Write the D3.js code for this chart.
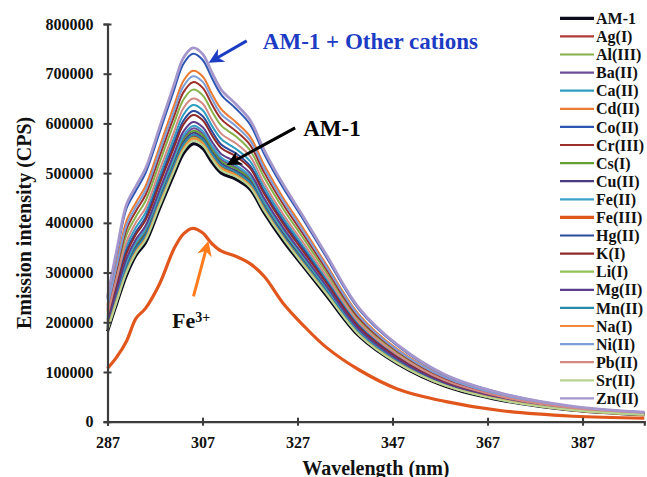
<!DOCTYPE html>
<html>
<head>
<meta charset="utf-8">
<script src="https://cdn.jsdelivr.net/npm/d3@7"></script>
<style>
  body { margin: 0; background: #fff; }
  svg { display: block; font-family: "Liberation Serif", "Times New Roman", serif; font-weight: bold; }
</style>
</head>
<body>
<svg id="chart" width="647" height="477"></svg>
<script>
// wavelength (nm) and emission intensities (thousands of CPS)
var wavelength = [287, 289, 291, 293, 295, 298, 301, 303, 305, 307, 309, 311, 314, 317, 320, 324, 328, 333, 340, 348, 358, 370, 385, 400];

var am1 = [182, 240, 295, 335, 360, 430, 498, 540, 559, 550, 522, 500, 488, 468, 420, 364, 315, 255, 172, 117, 72, 43, 23, 14];
var ag  = [187, 248, 306, 346, 372, 443, 512, 555, 574, 565, 536, 513, 500, 479, 430, 373, 323, 261, 176, 120, 74, 44, 24, 14];
var al  = [221, 301, 376, 413, 444, 522, 600, 648, 668, 657, 624, 595, 574, 546, 491, 428, 372, 301, 204, 139, 85, 51, 27, 17];
var ba  = [193, 257, 318, 357, 384, 456, 527, 571, 590, 580, 551, 527, 512, 490, 440, 382, 331, 268, 181, 123, 76, 45, 24, 15];
var ca  = [210, 284, 353, 391, 420, 496, 571, 618, 637, 627, 595, 568, 549, 524, 471, 410, 356, 288, 195, 133, 82, 49, 26, 16];
var cd  = [235, 322, 404, 441, 474, 554, 636, 686, 706, 695, 659, 628, 603, 574, 516, 450, 392, 317, 215, 146, 90, 54, 29, 18];
var co  = [247, 341, 429, 465, 500, 583, 667, 720, 740, 728, 691, 657, 630, 598, 538, 470, 410, 332, 225, 153, 94, 57, 30, 19];
var cr  = [226, 309, 387, 424, 456, 535, 614, 663, 683, 672, 638, 608, 585, 557, 501, 437, 380, 308, 208, 142, 87, 52, 28, 17];
var cs  = [191, 255, 314, 354, 380, 452, 523, 566, 585, 576, 547, 523, 509, 487, 437, 379, 329, 266, 180, 122, 75, 45, 24, 15];
var cu  = [190, 252, 311, 351, 377, 448, 518, 562, 581, 571, 542, 519, 505, 484, 434, 377, 326, 264, 178, 121, 75, 45, 24, 15];
var fe2 = [195, 260, 321, 361, 388, 460, 531, 576, 595, 585, 555, 531, 516, 494, 443, 385, 334, 270, 182, 124, 76, 46, 24, 15];
var fe3 = [107, 131, 162, 208, 228, 278, 348, 378, 389, 380, 358, 343, 333, 318, 292, 238, 196, 150, 104, 66, 41, 22, 11, 7];
var hg  = [206, 277, 344, 382, 411, 486, 560, 606, 625, 615, 584, 557, 540, 515, 463, 403, 350, 283, 191, 130, 80, 48, 26, 16];
var k   = [203, 272, 338, 377, 405, 479, 552, 598, 617, 607, 576, 550, 534, 510, 458, 398, 345, 280, 189, 129, 79, 47, 25, 16];
var li  = [186, 247, 304, 343, 369, 440, 509, 552, 571, 562, 533, 510, 497, 476, 428, 371, 321, 260, 175, 119, 73, 44, 23, 14];
var mg  = [198, 265, 328, 367, 394, 467, 539, 584, 603, 593, 563, 538, 523, 500, 449, 390, 338, 274, 185, 126, 77, 46, 25, 15];
var mn  = [188, 250, 308, 348, 374, 445, 515, 558, 577, 568, 539, 516, 502, 481, 432, 374, 324, 263, 177, 121, 74, 44, 24, 14];
var na  = [186, 246, 302, 342, 368, 439, 507, 550, 569, 560, 531, 509, 496, 475, 427, 370, 320, 259, 175, 119, 73, 44, 23, 14];
var ni  = [231, 316, 395, 433, 465, 545, 625, 675, 695, 684, 649, 618, 595, 566, 509, 444, 386, 313, 212, 144, 89, 53, 29, 18];
var pb  = [215, 291, 362, 401, 430, 507, 583, 631, 650, 640, 607, 579, 560, 534, 479, 417, 363, 294, 199, 135, 83, 50, 27, 16];
var sr  = [184, 243, 300, 339, 365, 435, 504, 546, 565, 556, 528, 505, 493, 472, 424, 368, 318, 258, 174, 118, 73, 43, 23, 14];
var zn  = [251, 348, 437, 474, 509, 593, 678, 732, 752, 740, 702, 667, 639, 607, 546, 477, 416, 337, 228, 155, 95, 57, 31, 19];

var seriesNames = ["AM-1", "Ag(I)", "Al(III)", "Ba(II)", "Ca(II)", "Cd(II)", "Co(II)", "Cr(III)", "Cs(I)", "Cu(II)", "Fe(II)",
                   "Fe(III)", "Hg(II)", "K(I)", "Li(I)", "Mg(II)", "Mn(II)", "Na(I)", "Ni(II)", "Pb(II)", "Sr(II)", "Zn(II)"];
var seriesValues = [am1, ag, al, ba, ca, cd, co, cr, cs, cu, fe2, fe3, hg, k, li, mg, mn, na, ni, pb, sr, zn];
var seriesColors = ["#0b0b1e", "#b03a36", "#86b14a", "#6c4f9c", "#2f9dc0", "#ec7a30", "#2d57b2", "#9c2e2c", "#63a030", "#4a3a7e", "#3ba3cb",
                    "#e0561c", "#2c4a9c", "#8e2a2a", "#94c058", "#5c3e8c", "#2a8aac", "#f28a3a", "#7e9ed8", "#d48884", "#b6d492", "#a596cc"];
var seriesWidths = [3.2, 2, 2, 2, 2, 2, 2, 2, 2, 2, 2, 3.2, 2, 2, 2, 2, 2, 2, 2, 2, 2, 2.8];

var xTicks = [287, 307, 327, 347, 367, 387];
var yTicks = [0, 100, 200, 300, 400, 500, 600, 700, 800];

var svg = d3.select("#chart");
var axisColor = "#3c3c3c";

var x = d3.scaleLinear().domain([287, 400]).range([107.5, 644.3]);
var y = d3.scaleLinear().domain([0, 800]).range([421.7, 24]);

// curves (smoothed like the spreadsheet's line option)
var line = d3.line()
    .x(function (d) { return x(d[0]); })
    .y(function (d) { return y(d[1]); })
    .curve(d3.curveCatmullRom.alpha(0.5));

svg.append("g").attr("class", "curves")
  .selectAll("path")
  .data(seriesValues)
  .enter().append("path")
    .attr("fill", "none")
    .attr("stroke", function (d, i) { return seriesColors[i]; })
    .attr("stroke-width", function (d, i) { return seriesWidths[i]; })
    .attr("stroke-linejoin", "round")
    .attr("d", function (vals) { return line(d3.zip(wavelength, vals)); });

// axes
var xAxis = svg.append("g")
    .attr("transform", "translate(0," + y(0) + ")")
    .call(d3.axisBottom(x).tickValues(xTicks).tickSizeOuter(0).tickSize(4).tickPadding(9));
xAxis.selectAll(".tick line").attr("y1", -4).attr("y2", 4);

var yAxis = svg.append("g")
    .attr("transform", "translate(" + x(287) + ",0)")
    .call(d3.axisLeft(y).tickValues(yTicks).tickSizeOuter(0).tickSize(4).tickPadding(10)
      .tickFormat(function (d) { return d3.format("d")(d * 1000); }));
yAxis.selectAll(".tick line").attr("x1", 4).attr("x2", -4);

svg.selectAll(".domain").attr("stroke", axisColor).attr("stroke-width", 2.2);
svg.selectAll(".tick line").attr("stroke", axisColor).attr("stroke-width", 2);
svg.selectAll(".tick text")
    .attr("fill", "#111")
    .style("font-size", "16px")
    .style("font-family", "Liberation Serif, Times New Roman, serif")
    .style("font-weight", "bold");
xAxis.selectAll(".tick text").attr("dy", "0.85em");

// axis titles
svg.append("text")
    .attr("transform", "translate(31," + ((y(0) + y(800)) / 2) + ") rotate(-90)")
    .attr("text-anchor", "middle")
    .style("font-size", "20px")
    .attr("fill", "#111")
    .text("Emission intensity (CPS)");

svg.append("text")
    .attr("x", (x(287) + x(400)) / 2)
    .attr("y", 475)
    .attr("text-anchor", "middle")
    .style("font-size", "20px")
    .attr("fill", "#111")
    .text("Wavelength (nm)");

// legend
var legend = svg.append("g").attr("class", "legend")
  .selectAll("g")
  .data(seriesNames)
  .enter().append("g")
    .attr("transform", function (d, i) { return "translate(560," + (18.3 + i * 18.1) + ")"; });
legend.append("line")
    .attr("x1", 0).attr("x2", 34)
    .attr("stroke", function (d, i) { return seriesColors[i]; })
    .attr("stroke-width", function (d, i) { return seriesWidths[i] > 3 ? 3.2 : 2.2; });
legend.append("text")
    .attr("x", 36)
    .attr("dy", "0.35em")
    .style("font-size", "16px")
    .attr("fill", "#111")
    .text(function (d) { return d; });

// annotations with arrows
var defs = svg.append("defs");
function arrowMarker(id, color) {
  defs.append("marker")
      .attr("id", id)
      .attr("viewBox", "0 0 10 10")
      .attr("refX", 6).attr("refY", 5)
      .attr("markerWidth", 5).attr("markerHeight", 5)
      .attr("markerUnits", "strokeWidth")
      .attr("orient", "auto")
    .append("path")
      .attr("d", "M0,0 L10,5 L0,10 L3,5 Z")
      .attr("fill", color);
}
arrowMarker("arBlue", "#1c3cc4");
arrowMarker("arBlack", "#000");
arrowMarker("arOrange", "#ff7b1c");

function arrow(x1, y1, x2, y2, color, mk) {
  svg.append("line")
      .attr("x1", x(x1)).attr("y1", y(y1))
      .attr("x2", x(x2)).attr("y2", y(y2))
      .attr("stroke", color).attr("stroke-width", 3)
      .attr("marker-end", "url(#" + mk + ")");
}

arrow(316.3, 766, 309.4, 728, "#1c3cc4", "arBlue");
svg.append("text")
    .attr("x", x(319.7)).attr("y", y(750))
    .style("font-size", "23px")
    .attr("fill", "#1c3cc4")
    .text("AM-1 + Other cations");

arrow(326.5, 591, 313.2, 522, "#000", "arBlack");
svg.append("text")
    .attr("x", x(328.2)).attr("y", y(575))
    .style("font-size", "23px")
    .attr("fill", "#000")
    .text("AM-1");

arrow(305.1, 252, 307.9, 352, "#ff7b1c", "arOrange");
var fe = svg.append("text")
    .attr("x", x(300.6)).attr("y", y(188))
    .style("font-size", "22px")
    .attr("fill", "#111");
fe.append("tspan").text("Fe");
fe.append("tspan").attr("dy", "-0.45em").style("font-size", "14px").text("3+");
</script>
</body>
</html>
